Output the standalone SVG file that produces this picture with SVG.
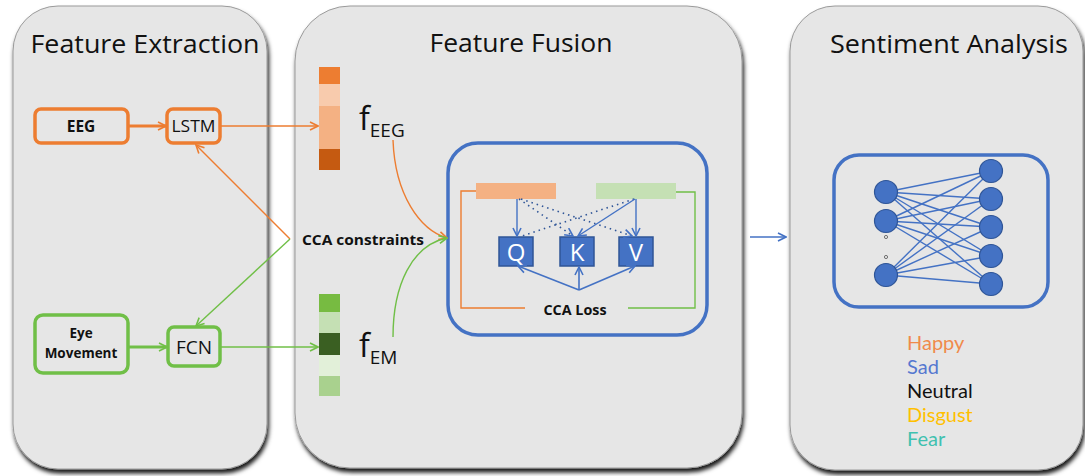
<svg xmlns="http://www.w3.org/2000/svg" width="1085" height="476" viewBox="0 0 1085 476">
<style>
.panel{fill:#E6E6E6;stroke:#9a9a9a;stroke-width:1;filter:url(#sh)}
.title{font-family:"Open Sans","Noto Sans",sans-serif;font-size:26px;fill:#111}
.box{fill:none;stroke-width:3.5}
.or{stroke:#ED7D31}
.gr{stroke:#70BF47}
.bl{stroke:#4472C4}
.lbl{font-family:"Open Sans","Noto Sans",sans-serif;fill:#111;text-anchor:middle}
.bold{font-weight:bold}
.qkv{fill:#4472C4;stroke:#2F5597;stroke-width:1.5}
.qkvt{font-family:"Open Sans","Noto Sans",sans-serif;font-size:24px;fill:#fff;text-anchor:middle}
.nn{fill:#4472C4;stroke:#2F5597;stroke-width:1.2}
.edge{stroke:#4472C4;stroke-width:1.4}
.leg{font-family:Lato,"Open Sans",sans-serif;font-size:20px}
</style>
<defs>
<filter id="sh" x="-10%" y="-10%" width="125%" height="125%">
<feDropShadow dx="1.5" dy="4" stdDeviation="2" flood-color="#000" flood-opacity="0.9"/>
</filter>
<marker id="ao" viewBox="0 0 10 10" refX="9" refY="5" markerWidth="10" markerHeight="10" markerUnits="userSpaceOnUse" orient="auto"><path d="M1,1 L9,5 L1,9" fill="none" stroke="#ED7D31" stroke-width="1.6"/></marker>
<marker id="ag" viewBox="0 0 10 10" refX="9" refY="5" markerWidth="10" markerHeight="10" markerUnits="userSpaceOnUse" orient="auto"><path d="M1,1 L9,5 L1,9" fill="none" stroke="#70BF47" stroke-width="1.6"/></marker>
<marker id="ab" viewBox="0 0 10 10" refX="9" refY="5" markerWidth="10" markerHeight="10" markerUnits="userSpaceOnUse" orient="auto"><path d="M1,1 L9,5 L1,9" fill="none" stroke="#4472C4" stroke-width="1.6"/></marker>
</defs>
<rect width="1085" height="476" fill="#fff"/>

<g id="panel-extraction">
<rect class="panel" x="13" y="6" width="254" height="463" rx="45"/>
<text class="title" x="145" y="53" text-anchor="middle" textLength="229" lengthAdjust="spacingAndGlyphs">Feature Extraction</text>
</g>
<g id="panel-fusion">
<rect class="panel" x="295" y="6" width="447" height="462" rx="55"/>
<text class="title" x="521" y="52" text-anchor="middle" textLength="183" lengthAdjust="spacingAndGlyphs">Feature Fusion</text>
</g>
<g id="panel-sentiment">
<rect class="panel" x="790" y="6" width="293" height="464" rx="45"/>
<text class="title" x="949" y="53" text-anchor="middle" textLength="238" lengthAdjust="spacingAndGlyphs">Sentiment Analysis</text>
</g>

<g id="eeg">
<rect class="box or" x="35" y="109" width="93" height="34" rx="6"/>
<text class="lbl bold" x="81" y="132" font-size="15.5">EEG</text>
</g>
<g id="lstm">
<rect class="box or" x="167" y="109" width="53" height="34" rx="6"/>
<text class="lbl" x="193.5" y="132" font-size="16" textLength="44" lengthAdjust="spacingAndGlyphs">LSTM</text>
</g>
<g id="eye-movement">
<rect class="box gr" x="35" y="315" width="93" height="58" rx="8"/>
<text class="lbl bold" x="81" y="338" font-size="13.5">Eye</text>
<text class="lbl bold" x="81" y="358" font-size="13.5">Movement</text>
</g>
<g id="fcn">
<rect class="box gr" x="168" y="327" width="52" height="39" rx="6"/>
<text class="lbl" x="194" y="354" font-size="19">FCN</text>
</g>

<g id="f-eeg">
<rect x="319" y="67" width="21" height="17" fill="#ED7D31"/>
<rect x="319" y="84" width="21" height="22" fill="#F8CBAD"/>
<rect x="319" y="106" width="21" height="43" fill="#F4B183"/>
<rect x="319" y="149" width="21" height="21" fill="#C55A11"/>
<text x="359" y="130" font-family="'Open Sans','Noto Sans',sans-serif" font-size="32" fill="#111">f<tspan font-size="19" dy="7">EEG</tspan></text>
</g>
<g id="f-em">
<rect x="319" y="294" width="21" height="18" fill="#77BB41"/>
<rect x="319" y="312" width="21" height="21" fill="#C5E0B4"/>
<rect x="319" y="333" width="21" height="22" fill="#3A5F22"/>
<rect x="319" y="355" width="21" height="21" fill="#E2F0D9"/>
<rect x="319" y="376" width="21" height="20" fill="#A9D18E"/>
<text x="359" y="357" font-family="'Open Sans','Noto Sans',sans-serif" font-size="32" fill="#111">f<tspan font-size="19" dy="7">EM</tspan></text>
</g>

<g id="cca-constraints">
<text class="lbl bold" x="363" y="245" font-size="14.5" textLength="122" lengthAdjust="spacingAndGlyphs">CCA constraints</text>
</g>

<g id="attention-block">
<rect class="box bl" x="448" y="143" width="259" height="192" rx="30" stroke-width="3"/>
<rect x="476" y="183" width="80" height="16" fill="#F4B183"/>
<rect x="596" y="183" width="80" height="16" fill="#C5E0B4"/>
<rect class="qkv" x="499" y="237" width="34" height="29"/>
<text class="qkvt" x="516" y="261">Q</text>
<rect class="qkv" x="560" y="237" width="34" height="29"/>
<text class="qkvt" x="577" y="261">K</text>
<rect class="qkv" x="619" y="237" width="34" height="29"/>
<text class="qkvt" x="636" y="261">V</text>
<text class="lbl bold" x="575" y="315" font-size="14.5" textLength="63" lengthAdjust="spacingAndGlyphs">CCA Loss</text>
</g>

<g id="classifier">
<rect class="box bl" x="834" y="155" width="214" height="152" rx="25" stroke-width="3"/>
<g id="nn-edges">
<line class="edge" x1="886" y1="192" x2="991" y2="171"/><line class="edge" x1="886" y1="192" x2="991" y2="199"/><line class="edge" x1="886" y1="192" x2="991" y2="227"/><line class="edge" x1="886" y1="192" x2="991" y2="256"/><line class="edge" x1="886" y1="192" x2="991" y2="284"/>
<line class="edge" x1="886" y1="221" x2="991" y2="171"/><line class="edge" x1="886" y1="221" x2="991" y2="199"/><line class="edge" x1="886" y1="221" x2="991" y2="227"/><line class="edge" x1="886" y1="221" x2="991" y2="256"/><line class="edge" x1="886" y1="221" x2="991" y2="284"/>
<line class="edge" x1="886" y1="275" x2="991" y2="171"/><line class="edge" x1="886" y1="275" x2="991" y2="199"/><line class="edge" x1="886" y1="275" x2="991" y2="227"/><line class="edge" x1="886" y1="275" x2="991" y2="256"/><line class="edge" x1="886" y1="275" x2="991" y2="284"/>
</g>
<circle class="nn" cx="886" cy="192" r="11.5"/>
<circle class="nn" cx="886" cy="221" r="11.5"/>
<circle class="nn" cx="886" cy="275" r="11.5"/>
<circle cx="886" cy="237" r="1.6" fill="none" stroke="#555" stroke-width="0.8"/>
<circle cx="886" cy="257" r="1.6" fill="none" stroke="#555" stroke-width="0.8"/>
<circle class="nn" cx="991" cy="171" r="11.5"/>
<circle class="nn" cx="991" cy="199" r="11.5"/>
<circle class="nn" cx="991" cy="227" r="11.5"/>
<circle class="nn" cx="991" cy="256" r="11.5"/>
<circle class="nn" cx="991" cy="284" r="11.5"/>
</g>

<g id="legend">
<text class="leg" x="907" y="350" fill="#F08A4B">Happy</text>
<text class="leg" x="907" y="374" fill="#5578D0">Sad</text>
<text class="leg" x="907" y="398" fill="#111">Neutral</text>
<text class="leg" x="907" y="422" fill="#FFC000">Disgust</text>
<text class="leg" x="907" y="446" fill="#3FC1B0">Fear</text>
</g>

<g id="connectors" fill="none">
<line x1="128" y1="126" x2="166" y2="126" stroke="#ED7D31" stroke-width="3" marker-end="url(#ao)"/>
<line x1="128" y1="347" x2="167" y2="347" stroke="#70BF47" stroke-width="3" marker-end="url(#ag)"/>
<line x1="221" y1="126" x2="318" y2="126" stroke="#ED7D31" stroke-width="1.4" marker-end="url(#ao)"/>
<line x1="221" y1="347" x2="318" y2="347" stroke="#70BF47" stroke-width="1.4" marker-end="url(#ag)"/>
<line x1="290" y1="239" x2="196" y2="145" stroke="#ED7D31" stroke-width="1.4" marker-end="url(#ao)"/>
<line x1="290" y1="239" x2="196" y2="326" stroke="#70BF47" stroke-width="1.4" marker-end="url(#ag)"/>
<path d="M393,140 C395,195 420,230 447,238" stroke="#ED7D31" stroke-width="1.4" marker-end="url(#ao)"/>
<path d="M393,337 C393,285 412,245 447,238" stroke="#70BF47" stroke-width="1.4" marker-end="url(#ag)"/>
<polyline points="476,191 461,191 461,308 525,308" stroke="#ED7D31" stroke-width="1.4"/>
<polyline points="676,192 695,192 695,308 628,308" stroke="#70BF47" stroke-width="1.4"/>
<line x1="517" y1="199" x2="517" y2="236" stroke="#4472C4" stroke-width="1.4" marker-end="url(#ab)"/>
<line x1="519" y1="199" x2="573" y2="236" stroke="#2F5597" stroke-width="1.6" stroke-dasharray="1.5 4" marker-end="url(#ab)"/>
<line x1="521" y1="199" x2="632" y2="236" stroke="#2F5597" stroke-width="1.6" stroke-dasharray="1.5 4" marker-end="url(#ab)"/>
<line x1="634" y1="199" x2="522" y2="236" stroke="#2F5597" stroke-width="1.6" stroke-dasharray="1.5 4"/>
<line x1="635" y1="199" x2="578" y2="236" stroke="#4472C4" stroke-width="1.4" marker-end="url(#ab)"/>
<line x1="636" y1="199" x2="636" y2="236" stroke="#4472C4" stroke-width="1.4" marker-end="url(#ab)"/>
<line x1="579" y1="290" x2="518" y2="266" stroke="#4472C4" stroke-width="1.6" marker-end="url(#ab)"/>
<line x1="579" y1="290" x2="579" y2="267" stroke="#4472C4" stroke-width="1.6" marker-end="url(#ab)"/>
<line x1="579" y1="290" x2="635" y2="266" stroke="#4472C4" stroke-width="1.6" marker-end="url(#ab)"/>
<line x1="750" y1="237" x2="786" y2="237" stroke="#4472C4" stroke-width="1.4" marker-end="url(#ab)"/>
</g>
</svg>
